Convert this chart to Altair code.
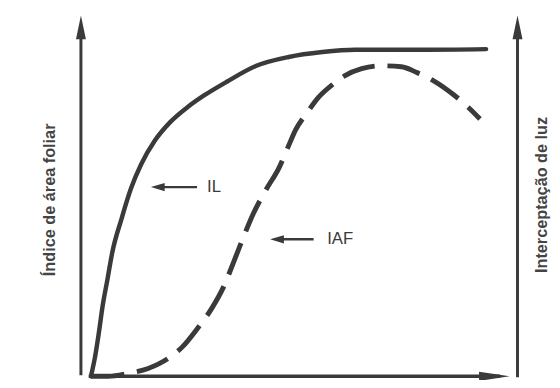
import altair as alt
import pandas as pd

# ---- data (x: time units, y: relative value in %) ----
il_x = [0.23, 0.32, 0.41, 0.50, 0.61, 0.72, 0.93, 1.15, 1.38, 1.69, 2.05, 2.44, 2.82, 3.34, 4.02, 4.76, 5.53, 6.28, 7.79, 9.28]
il_y = [0.0, 5.7, 13.3, 21.8, 29.9, 38.1, 48.3, 57.7, 65.0, 72.2, 78.0, 82.5, 86.1, 90.3, 95.2, 97.9, 99.4, 100.1, 100.1, 100.3]

iaf_x = [0.23, 0.63, 1.08, 1.54, 1.99, 2.33, 2.66, 3.00, 3.27, 3.50, 3.72, 3.95, 4.24, 4.54, 4.76, 4.92, 5.19, 5.44, 5.76, 6.05, 6.43, 6.88, 7.34, 7.70, 8.08, 8.53, 8.87, 9.14]
iaf_y = [0.0, 0.0, 0.9, 2.4, 5.4, 9.1, 14.5, 20.9, 27.5, 35.1, 42.6, 49.9, 57.2, 64.0, 70.8, 75.6, 81.0, 85.5, 89.4, 92.2, 94.3, 95.2, 94.9, 93.1, 90.6, 86.4, 82.5, 78.9]

labels = ["IL", "IAF"]
label_x = [2.89, 5.64]
label_y = [58.0, 42.0]

y_title_left = "Índice de área foliar"
y_title_right = "Interceptação de luz"

X_DOMAIN = [-1.6704, 10.7901]
Y_DOMAIN = [-0.3021, 112.085]
INK = "#3a3a3a"

xs = alt.Scale(domain=X_DOMAIN, nice=False, zero=False, padding=0)
ys = alt.Scale(domain=Y_DOMAIN, nice=False, zero=False, padding=0)

def X(f="x"):
    return alt.X(f"{f}:Q", scale=xs, axis=None)

def Y(f="y"):
    return alt.Y(f"{f}:Q", scale=ys, axis=None)

il_df = pd.DataFrame({"x": il_x, "y": il_y})
iaf_df = pd.DataFrame({"x": iaf_x, "y": iaf_y})

il = alt.Chart(il_df).mark_line(color=INK, strokeWidth=4.5, interpolate="monotone", strokeCap="round").encode(x=X(), y=Y())
iaf = alt.Chart(iaf_df).mark_line(color=INK, strokeWidth=5, interpolate="monotone", strokeDash=[34, 13]).encode(x=X(), y=Y())

# frame arrows
vrules = pd.DataFrame({"x": [0.0, 10.0], "y": [0.3, -0.3], "y2": [105.0, 105.0]})
vr = alt.Chart(vrules).mark_rule(color=INK, strokeWidth=3).encode(x=X(), y=Y(), y2="y2:Q")
hrule = pd.DataFrame({"x": [0.18], "x2": [9.6], "y": [0.0]})
hr = alt.Chart(hrule).mark_rule(color=INK, strokeWidth=3.5).encode(x=X(), x2="x2:Q", y=Y())

UP = "M0,-1L0.42,1L-0.42,1Z"
RIGHT = "M1,0L-1,0.3L-1,-0.3Z"
LEFT = "M-1,0L1,0.6L1,-0.6Z"

up_heads = pd.DataFrame({"x": [0.0, 10.0], "y": [106.95, 106.95]})
uh = alt.Chart(up_heads).mark_point(shape=UP, size=576, filled=True, color=INK, opacity=1, strokeWidth=0).encode(x=X(), y=Y())
r_head = pd.DataFrame({"x": [9.47], "y": [0.0]})
rh = alt.Chart(r_head).mark_point(shape=RIGHT, size=961, filled=True, color=INK, opacity=1, strokeWidth=0).encode(x=X(), y=Y())

# label arrows
lab_shaft = pd.DataFrame({"x": [1.85, 4.60], "x2": [2.66, 5.33], "y": label_y})
ls = alt.Chart(lab_shaft).mark_rule(color=INK, strokeWidth=2.5).encode(x=X(), x2="x2:Q", y=Y())
lab_head = pd.DataFrame({"x": [1.76, 4.49], "y": label_y})
lh = alt.Chart(lab_head).mark_point(shape=LEFT, size=196, filled=True, color=INK, opacity=1, strokeWidth=0).encode(x=X(), y=Y())

lab_df = pd.DataFrame({"x": label_x, "y": label_y, "t": labels})
lt = alt.Chart(lab_df).mark_text(align="left", baseline="middle", font="Liberation Sans", fontSize=17, color=INK).encode(x=X(), y=Y(), text="t:N")

titles = pd.DataFrame({"x": [-0.70, 10.56], "y": [54.1, 55.6], "t": [y_title_left, y_title_right]})
tt = alt.Chart(titles).mark_text(angle=270, align="center", baseline="middle", font="Liberation Sans", fontWeight="bold", fontSize=16.5, color="#444444").encode(x=X(), y=Y(), text="t:N")

chart = alt.layer(vr, hr, uh, rh, il, iaf, ls, lh, lt, tt).properties(
    width=552, height=372, padding=0, autosize=alt.AutoSizeParams(type="none"),
    background="white"
).configure_view(stroke=None)

chart.save("out.html", embed_options={"renderer": "svg", "actions": False})
